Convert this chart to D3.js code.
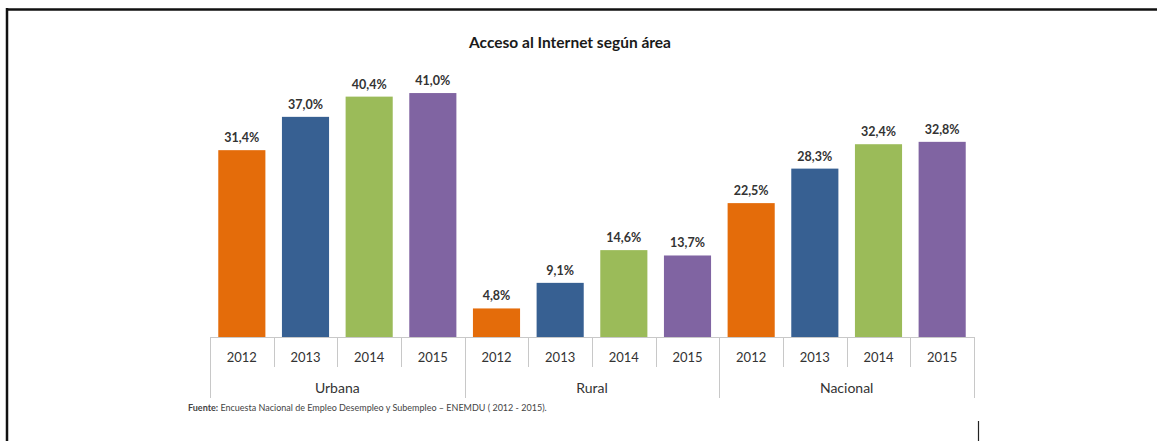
<!DOCTYPE html>
<html>
<head>
<meta charset="utf-8">
<script src="https://cdn.jsdelivr.net/npm/d3@7"></script>
<style>
  html, body { margin: 0; padding: 0; background: #fff; }
  svg { display: block; }
</style>
</head>
<body>
<svg id="chart" width="1157" height="441"></svg>
<script>
// Chart data
const areas = ["Urbana", "Rural", "Nacional"];
const years = ["2012", "2013", "2014", "2015"];
const urbana = [31.4, 37.0, 40.4, 41.0];
const rural = [4.8, 9.1, 14.6, 13.7];
const nacional = [22.5, 28.3, 32.4, 32.8];
const seriesByArea = [urbana, rural, nacional];
const yearColors = ["#E46C0A", "#376092", "#9BBB59", "#8064A2"];

const title = "Acceso al Internet según área";
const sourceLabel = "Fuente:";
const sourceText = " Encuesta Nacional de Empleo Desempleo y Subempleo – ENEMDU ( 2012 - 2015).";

const svg = d3.select("#chart");
const font = "Lato, 'Open Sans', sans-serif";

// Page frame
svg.append("line").attr("x1", 6).attr("x2", 1157).attr("y1", 9.5).attr("y2", 9.5)
  .attr("stroke", "#111").attr("stroke-width", 2.5);
svg.append("line").attr("x1", 7).attr("x2", 7).attr("y1", 8).attr("y2", 441)
  .attr("stroke", "#111").attr("stroke-width", 2.5);
svg.append("line").attr("x1", 978.5).attr("x2", 978.5).attr("y1", 421).attr("y2", 441)
  .attr("stroke", "#222").attr("stroke-width", 1.2);

// Scales
const x0 = d3.scaleBand().domain(areas).range([210, 974]).padding(0);
const x1 = d3.scaleBand().domain(years).range([0, x0.bandwidth()])
  .paddingInner(0.26).paddingOuter(0.13);
const y = d3.scaleLinear().domain([0, 45]).range([337, 337 - 45 * 5.95]);

const fmt = v => d3.format(".1f")(v).replace(".", ",") + "%";

// Title
svg.append("text").attr("x", 570).attr("y", 48).attr("text-anchor", "middle")
  .attr("font-family", font).attr("font-weight", 700).attr("font-size", 15.5)
  .attr("fill", "#1a1a1a").text(title);

// Bars and value labels
const groups = svg.selectAll("g.area").data(areas).join("g")
  .attr("class", "area")
  .attr("transform", d => `translate(${x0(d)},0)`);

groups.each(function(area, i) {
  const vals = seriesByArea[i].map((v, j) => ({ year: years[j], value: v, color: yearColors[j] }));
  const g = d3.select(this);
  g.selectAll("rect").data(vals).join("rect")
    .attr("x", d => x1(d.year))
    .attr("y", d => y(d.value))
    .attr("width", x1.bandwidth())
    .attr("height", d => y(0) - y(d.value))
    .attr("fill", d => d.color);
  g.selectAll("text.val").data(vals).join("text")
    .attr("class", "val")
    .attr("x", d => x1(d.year) + x1.bandwidth() / 2)
    .attr("y", d => y(d.value) - 8)
    .attr("text-anchor", "middle")
    .attr("font-family", font).attr("font-weight", 700).attr("font-size", 12.5)
    .attr("fill", "#333").text(d => fmt(d.value));
});

// Category axis: grid of year cells under area cells
const axisColor = "#c8c8c8";
const base = y(0);
svg.append("line").attr("x1", x0.range()[0]).attr("x2", x0.range()[1])
  .attr("y1", base + 0.5).attr("y2", base + 0.5)
  .attr("stroke", axisColor).attr("stroke-width", 1);

areas.forEach(area => {
  const gx = x0(area);
  years.forEach((yr, j) => {
    const step = x1.step();
    const left = gx + x1(yr) - x1.paddingInner() * step / 2;
    const cx = gx + x1(yr) + x1.bandwidth() / 2;
    if (j > 0) {
      svg.append("line").attr("x1", Math.round(left) + 0.5).attr("x2", Math.round(left) + 0.5)
        .attr("y1", base).attr("y2", base + 30)
        .attr("stroke", axisColor).attr("stroke-width", 1);
    }
    svg.append("text").attr("x", cx).attr("y", base + 25)
      .attr("text-anchor", "middle").attr("font-family", font)
      .attr("font-size", 13).attr("fill", "#333").text(yr);
  });
  svg.append("text").attr("x", gx + x0.bandwidth() / 2).attr("y", base + 56)
    .attr("text-anchor", "middle").attr("font-family", font)
    .attr("font-size", 14).attr("fill", "#333").text(area);
});

// Area separators, full height
x0.domain().concat([null]).forEach(area => {
  const xx = area === null ? x0.range()[1] : x0(area);
  svg.append("line").attr("x1", Math.round(xx) + 0.5).attr("x2", Math.round(xx) + 0.5)
    .attr("y1", base).attr("y2", base + 61)
    .attr("stroke", axisColor).attr("stroke-width", 1);
});

// Source note
const src = svg.append("text").attr("x", 188).attr("y", 411)
  .attr("font-family", font).attr("font-size", 9).attr("fill", "#444");
src.append("tspan").attr("font-weight", 700).text(sourceLabel);
src.append("tspan").text(sourceText);
</script>
</body>
</html>
